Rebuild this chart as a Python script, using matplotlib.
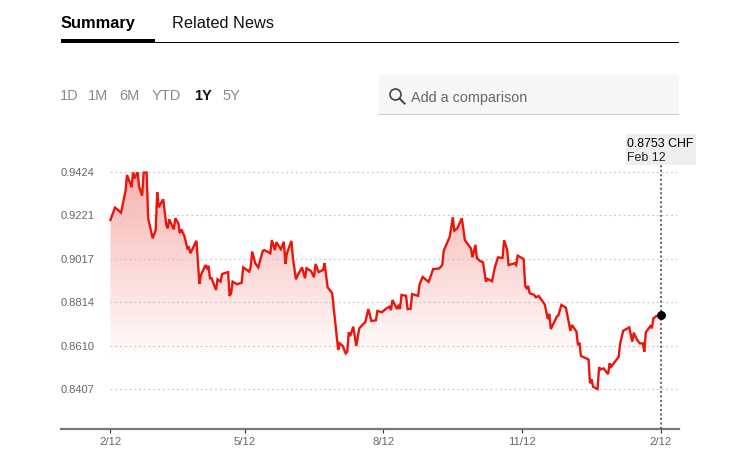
#!/usr/bin/env python3
'''
One year USD/CHF style price chart with the page tabs around it.
'''
import numpy as np
import matplotlib
matplotlib.use('Agg')
import matplotlib.pyplot as plt
from matplotlib.patches import Rectangle, Circle

plt.rcParams['font.family'] = ['Liberation Sans', 'DejaVu Sans']

# days since 2/12 of the first year
days = [
    0, 3, 5, 7, 10, 11, 14, 15, 16, 18, 19, 21, 22, 24, 25, 28, 30, 31, 32, 35,
    37, 38, 39, 42, 43, 45, 46, 47, 49, 51, 52, 53, 57, 59, 60, 63, 64, 65, 66, 67,
    70, 71, 73, 74, 78, 79, 80, 81, 84, 87, 88, 92, 93, 94, 96, 98, 101, 102, 106, 107,
    109, 110, 113, 115, 116, 117, 120, 121, 123, 124, 127, 129, 130, 133, 135, 136, 138, 141, 142, 144,
    147, 151, 152, 154, 156, 157, 158, 159, 161, 163, 165, 169, 171, 173, 176, 177, 180, 183, 185, 186,
    187, 190, 191, 192, 193, 196, 197, 199, 200, 204, 205, 207, 211, 214, 218, 220, 221, 225, 227, 228,
    230, 233, 235, 239, 240, 242, 243, 245, 247, 249, 250, 253, 255, 257, 260, 261, 263, 264, 268, 269,
    270, 274, 275, 276, 277, 278, 281, 282, 284, 288, 290, 291, 292, 296, 297, 299, 302, 305, 306, 309,
    310, 311, 312, 317, 318, 319, 320, 323, 324, 325, 327, 330, 331, 332, 337, 338, 340, 344, 346, 347,
    349, 351, 353, 354, 355, 358, 359, 360, 362, 365,
]
prices = [
    .9199, .9257, .9246, .9233, .9336, .9410, .9352, .9421, .9394, .9423,
    .9355, .9313, .9421, .9421, .9207, .9113, .9152, .9329, .9259, .9296,
    .9176, .9160, .9202, .9155, .9207, .9184, .9137, .9155, .9124, .9066,
    .9071, .9043, .9102, .8899, .8941, .8988, .8973, .8984, .8926, .8926,
    .8871, .8921, .8910, .8946, .8955, .8843, .8856, .8910, .8898, .8905,
    .8977, .8957, .8980, .9051, .8996, .8977, .9054, .9058, .9043, .9105,
    .9058, .9095, .9062, .9097, .8993, .9043, .9101, .9020, .8921, .8938,
    .8977, .8926, .8973, .8960, .8931, .8993, .8955, .8965, .8996, .8884,
    .8856, .8590, .8621, .8609, .8574, .8582, .8673, .8655, .8699, .8609,
    .8692, .8721, .8782, .8726, .8729, .8773, .8767, .8785, .8793, .8777,
    .8824, .8782, .8801, .8782, .8848, .8844, .8782, .8783, .8852, .8844,
    .8899, .8932, .8909, .8969, .8972, .8988, .9055, .9121, .9212, .9149,
    .9160, .9207, .9105, .9066, .9024, .9082, .9020, .9007, .9001, .8910,
    .8923, .8912, .8980, .9024, .9021, .9104, .9062, .8988, .8996, .8988,
    .9032, .9016, .8890, .8879, .8890, .8856, .8848, .8837, .8843, .8803,
    .8735, .8759, .8688, .8747, .8752, .8801, .8788, .8680, .8707, .8676,
    .8613, .8624, .8562, .8546, .8434, .8453, .8418, .8407, .8509, .8499,
    .8504, .8477, .8528, .8512, .8558, .8621, .8680, .8696, .8629, .8671,
    .8640, .8621, .8621, .8582, .8673, .8702, .8692, .8738, .8749, .8753,
]

y_ticks = [0.9424, 0.9221, 0.9017, 0.8814, 0.8610, 0.8407]
y_labels = ['0.9424', '0.9221', '0.9017', '0.8814', '0.8610', '0.8407']
x_ticks = [0, 89, 181, 273, 365]
x_labels = ['2/12', '5/12', '8/12', '11/12', '2/12']
periods = ['1D', '1M', '6M', 'YTD', '1Y', '5Y']
period_x = [60, 88, 119, 152, 194, 222]

W, H = 748, 458
fig = plt.figure(figsize=(W / 100, H / 100), dpi=100)

# price axes, placed by pixel box
left, right, top, bottom = 61, 679, 135, 429
ax = fig.add_axes([left / W, 1 - bottom / H, (right - left) / W, (bottom - top) / H])
ax.set_xlim(-32.8, 377)
ax.set_ylim(0.8220, 0.9597)

poly = ax.fill_between(days, prices, 0.8220, color='none')
grad = np.ones((256, 1, 4))
grad[..., 0] = 0.91
grad[..., 1] = 0.09
grad[..., 2] = 0.05
grad[..., 3] = np.linspace(0.33, 0.0, 256)[:, None]
img = ax.imshow(grad, extent=[0, 365, 0.8530, 0.9424], origin='upper', aspect='auto', zorder=1)
img.set_clip_path(poly.get_paths()[0], transform=ax.transData)
ax.set_xlim(-32.8, 377)
ax.set_ylim(0.8220, 0.9597)

ax.hlines(y_ticks, 0, 376, color='#cccccc', lw=0.9, linestyles=(0, (1.6, 2.2)), zorder=2)
ax.plot(days, prices, color='#e8160c', lw=1.7, solid_joinstyle='miter', zorder=3)
ax.vlines(365, 0.8220, 0.9457, color='#555555', lw=1.3, linestyles=(0, (1.1, 1.4)), zorder=4)
ax.plot(days[-1], prices[-1], 'o', color='black', ms=5.4, zorder=5)

for side in ['top', 'right', 'left']:
    ax.spines[side].set_visible(False)
ax.spines['bottom'].set_color('#777777')
ax.spines['bottom'].set_linewidth(1.6)

ax.set_xticks(x_ticks)
ax.set_xticklabels(x_labels, fontsize=8.2, color='#666666')
ax.tick_params(axis='x', length=3, width=0.8, color='#333333', pad=3)
ax.set_yticks(y_ticks)
ax.set_yticklabels(y_labels, fontsize=8.0, color='#666666', ha='left')
ax.tick_params(axis='y', length=0, pad=0)

# page chrome in pixel coordinates
ui = fig.add_axes([0, 0, 1, 1], zorder=10)
ui.set_xlim(0, W)
ui.set_ylim(H, 0)
ui.axis('off')
ui.patch.set_alpha(0)

ui.text(61, 28, 'Summary', fontsize=11.8, fontweight='bold', color='black', va='baseline')
ui.text(172, 28, 'Related News', fontsize=11.8, color='#111111', va='baseline')
ui.add_patch(Rectangle((61, 42), 618, 1, color='black', lw=0))
ui.add_patch(Rectangle((61, 39), 94, 3.5, color='black', lw=0))

for label, x in zip(periods, period_x):
    active = label == '1Y'
    ui.text(x, 100.5, label, fontsize=10.5, va='baseline',
            color='#111111' if active else '#8a8a8a',
            fontweight='bold' if active else 'normal')

ui.add_patch(Rectangle((379, 75), 300, 39, color='#f7f7f7', lw=0))
ui.add_patch(Rectangle((379, 114), 300, 1, color='#cccccc', lw=0))
ui.add_patch(Circle((395.5, 94.5), 5.5, fill=False, ec='#444444', lw=1.2))
ui.plot([399.5, 404.5], [98.5, 103.5], color='#444444', lw=1.4)
ui.text(411, 102, 'Add a comparison', fontsize=10.4, color='#666666', va='baseline')

ui.add_patch(Rectangle((626, 134), 70, 31, color='#eeeeee', lw=0))
ui.text(627, 147, '0.8753 CHF', fontsize=8.9, color='black', va='baseline')
ui.text(627, 161, 'Feb 12', fontsize=8.9, color='#222222', va='baseline')

fig.savefig('out.png', dpi=100)
plt.close(fig)
